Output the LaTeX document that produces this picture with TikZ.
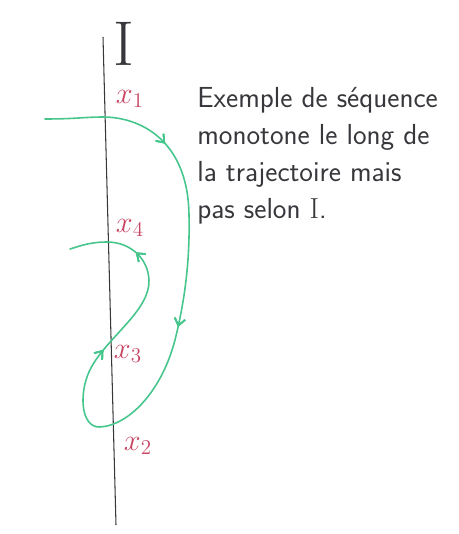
\documentclass[tikz,border=0pt]{standalone}
\usetikzlibrary{arrows.meta,decorations.markings}

\definecolor{trajgreen}{RGB}{70,198,140}
\definecolor{ptred}{RGB}{200,70,100}
\definecolor{inkgray}{RGB}{55,55,60}

\tikzset{
    ptlabel/.style={text=ptred, font=\fontsize{17}{20}\selectfont},
    barb/.style={decoration={markings,
        mark=at position #1 with {\arrow{Straight Barb[length=4pt,width=6pt]}}},
        postaction=decorate},
}

\begin{document}
\begin{tikzpicture}[x=0.02cm, y=-0.02cm]
    \useasboundingbox (0,0) rectangle (459,534);

    % The axis I
    \coordinate (Itop) at (103,37);
    \coordinate (Ibot) at (116,525);
    \draw[inkgray, line width=0.6pt] (Itop) -- (Ibot);
    \node[inkgray, font=\fontsize{36}{40}\selectfont] (Ilab) at (124,44) {I};

    % Points of the sequence
    \node[ptlabel] (x1) at (130,99) {$x_1$};
    \node[ptlabel] (x4) at (130,228) {$x_4$};
    \node[ptlabel] (x3) at (128,354) {$x_3$};
    \node[ptlabel] (x2) at (138,446) {$x_2$};

    % Trajectory
    \coordinate (start) at (45,119);
    \coordinate (end) at (70,249);
    \draw[trajgreen, line width=0.9pt, line cap=round,
          barb=0.175, barb=0.435, barb=0.745, barb=0.905]
        (start) .. controls (75,119) and (85,117) .. (103,117)
        .. controls (140,117) and (188,140) .. (189,215)
        .. controls (190,260) and (185,300) .. (175,340)
        .. controls (162,390) and (130,425) .. (100,427)
        .. controls (80,428) and (78,390) .. (92,366)
        .. controls (110,335) and (150,310) .. (149,280)
        .. controls (148,258) and (130,242) .. (107,242)
        .. controls (90,242) and (80,246) .. (end);

    % Comment
    \node[inkgray, anchor=north west, align=left, inner sep=0pt,
          font=\sffamily\fontsize{16.5}{21}\selectfont] (note) at (197,87)
        {Exemple de séquence\\monotone le long de\\la trajectoire mais\\pas selon {\rmfamily I}.};
\end{tikzpicture}
\end{document}
